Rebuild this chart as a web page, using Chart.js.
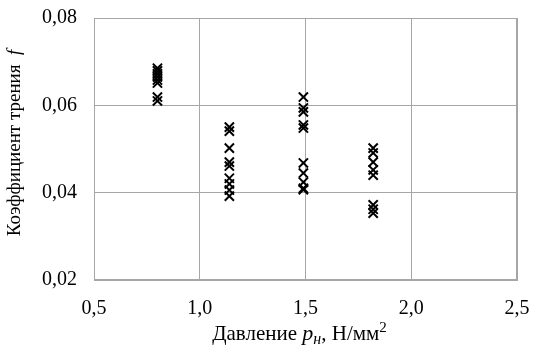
<!DOCTYPE html>
<html><head><meta charset="utf-8">
<script src="https://cdn.jsdelivr.net/npm/chart.js@4.4.1/dist/chart.umd.min.js"></script>
<style>html,body{margin:0;padding:0;background:#fff}#wrap{width:538px;height:351px}</style>
</head><body><div id="wrap"><canvas id="c"></canvas></div>
<script>
// Data
const pressureX = [0.8, 1.14, 1.49, 1.82];
const friction08 = [0.0685, 0.0679, 0.0672, 0.0665, 0.0658, 0.0651, 0.0619, 0.0610];
const friction114 = [0.0550, 0.0541, 0.0502, 0.0470, 0.0461, 0.0433, 0.0420, 0.0406, 0.0392];
const friction149 = [0.0619, 0.0594, 0.0585, 0.0555, 0.0548, 0.0468, 0.0445, 0.0424, 0.0410, 0.0407];
const friction182 = [0.0502, 0.0491, 0.0470, 0.0452, 0.0440, 0.0372, 0.0362, 0.0353];
const xTicks = [0.5, 1.0, 1.5, 2.0, 2.5];
const yTicks = [0.02, 0.04, 0.06, 0.08];

const groups = [friction08, friction114, friction149, friction182];
const points = [];
groups.forEach((g, i) => g.forEach(v => points.push({x: pressureX[i], y: v})));

const FONT = "'Liberation Serif', 'DejaVu Serif', serif";

const titles = {
  id: 'titles',
  afterDraw(chart) {
    const ctx = chart.ctx;
    const area = chart.chartArea;
    ctx.save();
    ctx.fillStyle = '#000';
    ctx.textBaseline = 'alphabetic';
    const parts = [
      {t: 'Давление ', f: '21px ' + FONT, dy: 0},
      {t: 'p', f: 'italic 22px ' + FONT, dy: 0},
      {t: 'н', f: 'italic 16px ' + FONT, dy: 4},
      {t: ', Н/мм', f: '21px ' + FONT, dy: 0},
      {t: '2', f: '15px ' + FONT, dy: -8}
    ];
    let w = 0;
    parts.forEach(p => { ctx.font = p.f; w += ctx.measureText(p.t).width; });
    let x = (area.left + area.right) / 2 - 6 - w / 2;
    const by = 340;
    parts.forEach(p => { ctx.font = p.f; ctx.fillText(p.t, x, by + p.dy); x += ctx.measureText(p.t).width; });
    ctx.translate(20, (area.top + area.bottom) / 2 - 6);
    ctx.rotate(-Math.PI / 2);
    const yp = [
      {t: 'Коэффициент трения  ', f: '19px ' + FONT},
      {t: 'f', f: 'italic 19px ' + FONT}
    ];
    w = 0;
    yp.forEach(p => { ctx.font = p.f; w += ctx.measureText(p.t).width; });
    x = -w / 2;
    yp.forEach(p => { ctx.font = p.f; ctx.fillText(p.t, x, 0); x += ctx.measureText(p.t).width; });
    ctx.restore();
  }
};

function build() {
new Chart(document.getElementById('c'), {
  type: 'scatter',
  data: {
    datasets: [{
      data: points,
      pointStyle: 'crossRot',
      pointRadius: 6.5,
      pointHoverRadius: 6.5,
      borderWidth: 2,
      borderColor: '#000',
      backgroundColor: '#000'
    }]
  },
  options: {
    responsive: true,
    maintainAspectRatio: false,
    animation: false,
    layout: {padding: {top: 18, right: 21, left: 0, bottom: 0}},
    plugins: {legend: {display: false}, tooltip: {enabled: false}},
    scales: {
      x: {
        type: 'linear', min: 0.5, max: 2.5,
        afterBuildTicks: s => { s.ticks = xTicks.map(v => ({value: v})); },
        afterFit: s => { s.height = 71; s.paddingLeft = 0; s.paddingRight = 0; },
        grid: {color: '#a6a6a6', lineWidth: 1, drawTicks: false},
        border: {color: '#a6a6a6'},
        ticks: {padding: 17, color: '#000', font: {family: FONT, size: 20},
          callback: v => v.toFixed(1).replace('.', ',')}
      },
      y: {
        type: 'linear', min: 0.02, max: 0.08,
        afterBuildTicks: s => { s.ticks = yTicks.map(v => ({value: v})); },
        afterFit: s => { s.width = 94; s.paddingTop = 0; s.paddingBottom = 0; },
        grid: {color: '#a6a6a6', lineWidth: 1, drawTicks: false},
        border: {color: '#a6a6a6'},
        ticks: {padding: 17, color: '#000', font: {family: FONT, size: 20},
          callback: v => v.toFixed(2).replace('.', ',')}
      }
    }
  },
  plugins: [titles, {
    id: 'frame',
    afterDatasetsDraw(chart) {
      const a = chart.chartArea, ctx = chart.ctx;
      ctx.save(); ctx.strokeStyle = '#a6a6a6'; ctx.lineWidth = 1;
      ctx.strokeRect(Math.round(a.left) + 0.5, Math.round(a.top) + 0.5, Math.round(a.right - a.left) - 1, Math.round(a.bottom - a.top) - 1);
      ctx.restore();
    }
  }]
});
}
if (document.fonts && document.fonts.load) {
  Promise.all([
    document.fonts.load("19px 'Liberation Serif'"),
    document.fonts.load("italic 19px 'Liberation Serif'")
  ]).then(build, build);
} else build();
</script></body></html>
